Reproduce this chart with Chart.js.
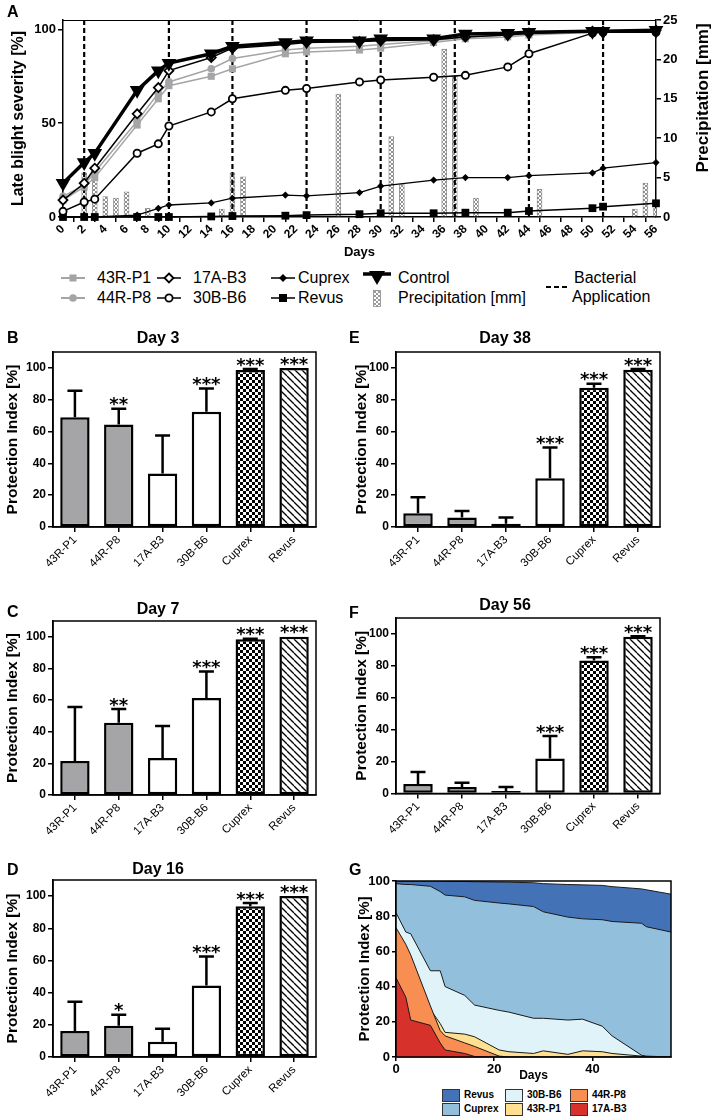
<!DOCTYPE html>
<html>
<head>
<meta charset="utf-8">
<script src="https://cdn.jsdelivr.net/npm/chart.js@4.4.1/dist/chart.umd.min.js"></script>
<style>
  body { margin: 0; background: #fff; }
  #page { position: relative; width: 714px; height: 1118px; overflow: hidden; font-family: "Liberation Sans", Arial, sans-serif; color: #000; }
  canvas { position: absolute; }
  .panel { position: absolute; font-weight: bold; font-size: 16px; line-height: 16px; }
  .lg { position: absolute; font-size: 16px; line-height: 18px; white-space: nowrap; }
  .ic { position: absolute; overflow: visible; }
  .gl { position: absolute; font-size: 10px; font-weight: bold; line-height: 12px; white-space: nowrap; }
  .gb { position: absolute; width: 16px; height: 11px; border: 1px solid #333; }
</style>
</head>
<body>
<div id="page">
  <canvas id="chartA" width="714" height="262" style="left:0;top:0"></canvas>
  <canvas id="chartB" width="336" height="255" style="left:0;top:320px"></canvas>
  <canvas id="chartE" width="326" height="255" style="left:350px;top:320px"></canvas>
  <canvas id="chartC" width="336" height="250" style="left:0;top:590px"></canvas>
  <canvas id="chartF" width="326" height="250" style="left:350px;top:590px"></canvas>
  <canvas id="chartD" width="336" height="268" style="left:0;top:850px"></canvas>
  <canvas id="chartG" width="360" height="213" style="left:354px;top:870px"></canvas>

  <div class="panel" style="left:7px;top:4px">A</div>
  <div class="panel" style="left:7px;top:330px">B</div>
  <div class="panel" style="left:7px;top:604px">C</div>
  <div class="panel" style="left:7px;top:862px">D</div>
  <div class="panel" style="left:349px;top:330px">E</div>
  <div class="panel" style="left:349px;top:605px">F</div>
  <div class="panel" style="left:349px;top:862px">G</div>

  <!-- legend of panel A -->
  <svg class="ic" style="left:61px;top:271px" width="24" height="14"><line x1="0" y1="7" x2="24" y2="7" stroke="#a4a4a4" stroke-width="2"/><rect x="8.5" y="3.5" width="7" height="7" fill="#a4a4a4"/></svg>
  <div class="lg" style="left:97px;top:269px">43R-P1</div>
  <svg class="ic" style="left:61px;top:291px" width="24" height="14"><line x1="0" y1="7" x2="24" y2="7" stroke="#a4a4a4" stroke-width="2"/><circle cx="12" cy="7" r="3.8" fill="#a4a4a4"/></svg>
  <div class="lg" style="left:97px;top:289px">44R-P8</div>
  <svg class="ic" style="left:157px;top:271px" width="24" height="14"><line x1="0" y1="7" x2="24" y2="7" stroke="#000" stroke-width="1.5"/><polygon points="12,2.5 16.5,7 12,11.5 7.5,7" fill="#fff" stroke="#000" stroke-width="1.8"/></svg>
  <div class="lg" style="left:193px;top:269px">17A-B3</div>
  <svg class="ic" style="left:157px;top:291px" width="24" height="14"><line x1="0" y1="7" x2="24" y2="7" stroke="#000" stroke-width="1.5"/><circle cx="12" cy="7" r="3.6" fill="#fff" stroke="#000" stroke-width="1.8"/></svg>
  <div class="lg" style="left:193px;top:289px">30B-B6</div>
  <svg class="ic" style="left:271px;top:271px" width="24" height="14"><line x1="0" y1="7" x2="24" y2="7" stroke="#000" stroke-width="1.5"/><polygon points="12,3 16,7 12,11 8,7" fill="#000"/></svg>
  <div class="lg" style="left:298px;top:269px">Cuprex</div>
  <svg class="ic" style="left:271px;top:291px" width="24" height="14"><line x1="0" y1="7" x2="24" y2="7" stroke="#000" stroke-width="1.5"/><rect x="8" y="3" width="8" height="8" fill="#000"/></svg>
  <div class="lg" style="left:298px;top:289px">Revus</div>
  <svg class="ic" style="left:363px;top:271px" width="28" height="14"><line x1="0" y1="3" x2="28" y2="3" stroke="#000" stroke-width="3.5"/><polygon points="6,0 22,0 14,14" fill="#000"/></svg>
  <div class="lg" style="left:398px;top:269px">Control</div>
  <svg class="ic" style="left:373px;top:290px" width="8" height="17"><defs><pattern id="rainPat" width="4" height="4" patternUnits="userSpaceOnUse"><rect width="4" height="4" fill="#fff"/><path d="M0,0L4,4M4,0L0,4" stroke="#9a9a9a" stroke-width="1"/></pattern></defs><rect x="0.5" y="0.5" width="7" height="16" fill="url(#rainPat)" stroke="#8c8c8c" stroke-width="0.8"/></svg>
  <div class="lg" style="left:398px;top:289px">Precipitation [mm]</div>
  <svg class="ic" style="left:546px;top:283px" width="24" height="8"><line x1="0" y1="4" x2="24" y2="4" stroke="#000" stroke-width="2.2" stroke-dasharray="5,3"/></svg>
  <div class="lg" style="left:574px;top:269px">Bacterial</div>
  <div class="lg" style="left:572px;top:288px">Application</div>

  <!-- legend of panel G -->
  <div class="gb" style="left:442px;top:1089px;background:#4472b7"></div>
  <div class="gl" style="left:464px;top:1089px">Revus</div>
  <div class="gb" style="left:505px;top:1089px;background:#e0f3f8"></div>
  <div class="gl" style="left:527px;top:1089px">30B-B6</div>
  <div class="gb" style="left:570px;top:1089px;background:#f98e52"></div>
  <div class="gl" style="left:592px;top:1089px">44R-P8</div>
  <div class="gb" style="left:442px;top:1103px;background:#92bfdc"></div>
  <div class="gl" style="left:464px;top:1103px">Cuprex</div>
  <div class="gb" style="left:505px;top:1103px;background:#fee090"></div>
  <div class="gl" style="left:527px;top:1103px">43R-P1</div>
  <div class="gb" style="left:570px;top:1103px;background:#d7312b"></div>
  <div class="gl" style="left:592px;top:1103px">17A-B3</div>
</div>

<script>
// A: late blight severity per assessment day
const days = [0, 2, 3, 7, 9, 10, 14, 16, 21, 23, 28, 30, 35, 38, 42, 44, 50, 51, 56];
const sev43RP1   = [9, 16, 21, 49, 63, 70, 75, 79, 87, 88, 89, 90, 93, 95, 96, 97, 98.5, 99, 99.5];
const sev44RP8   = [11, 17, 24, 51, 66, 72, 79, 84.5, 89, 90, 91, 92, 94, 96, 97, 97.5, 99, 99, 99.5];
const sev17AB3   = [9, 18, 26, 55, 69, 78, 85, 90, 92, 93, 93.5, 94, 94.5, 96, 97, 98, 99, 99, 99.5];
const sev30BB6   = [3, 8, 9.5, 34, 39, 48.5, 56, 63, 67.5, 68.5, 72, 73, 74.5, 75.5, 80, 87, 98, 98.5, 98.5];
const sevCuprex  = [0, 0, 0, 1, 4.6, 6.4, 7.5, 10, 11.7, 11.3, 13, 16.5, 19.7, 21, 21, 22, 23.5, 26, 29];
const sevRevus   = [0, 0, 0, 0, 0, 0, 0.3, 0.5, 0.7, 1, 1.5, 2, 2, 2.3, 2.3, 3.2, 4.7, 5.5, 7.3];
const sevControl = [18, 29, 34, 67.5, 78, 82, 87, 91, 93, 94, 94, 95, 95, 97.5, 98, 98.5, 99, 99, 99.5];

const precipDays = [2, 3, 4, 5, 6, 8, 15, 16, 17, 26, 31, 32, 36, 37, 39, 45, 54, 55, 56];
const precipMm   = [5.6, 5.8, 2.6, 2.4, 3.2, 1.1, 1.0, 5.6, 5.1, 15.6, 10.2, 4.1, 21.3, 17.9, 2.4, 3.5, 1.0, 4.3, 1.1];
const appDays = [2, 10, 16, 23, 30, 37, 44, 51];

// B-F: protection index per treatment
const strains = ['43R-P1', '44R-P8', '17A-B3', '30B-B6', 'Cuprex', 'Revus'];
const day3PI  = [69, 64.4, 33.7, 72.5, 98.7, 100];
const day3Err = [16.6, 10, 23.8, 14.5, 0.6, 0];
const day3Sig = ['', '**', '', '***', '***', '***'];
const day7PI  = [21.5, 45.6, 23.4, 61.4, 98.5, 100];
const day7Err = [34.2, 8.8, 20.2, 16.6, 0.3, 0];
const day7Sig = ['', '**', '', '***', '***', '***'];
const day16PI  = [16.2, 19.4, 9.4, 44.4, 93.7, 100];
const day16Err = [18.2, 6.8, 8.1, 18.1, 2.0, 0];
const day16Sig = ['', '*', '', '***', '***', '***'];
const day38PI  = [8.7, 6, 2, 30.6, 87.5, 98.8];
const day38Err = [10, 4, 4, 19.4, 2.5, 0.5];
const day38Sig = ['', '', '', '***', '***', '***'];
const day56PI  = [6, 4, 1.5, 22, 83.3, 98.2];
const day56Err = [7.5, 2.8, 2.5, 14, 2.1, 0.3];
const day56Sig = ['', '', '', '***', '***', '***'];

// G: protection index over time
const piRevus  = [100, 100, 100, 100, 100, 99.8, 99.7, 99.6, 99.4, 99.3, 99, 98.5, 98, 97.8, 97.5, 96.8, 95.5, 95, 92.5];
const piCuprex = [98.5, 98, 98, 97, 94, 92, 91, 89, 87.5, 87, 85.5, 82.5, 79.5, 78.5, 78, 77, 76, 74, 71];
const pi30BB6  = [82, 71, 70, 49, 49, 40, 35, 29.5, 26.5, 25.5, 22, 22, 21, 21.5, 17.5, 12, 1, 0.5, 0];
const pi43RP1  = [70, 62, 55, 27, 19, 14, 13, 11.5, 4, 3, 2, 3.5, 1.5, 3.5, 3, 2, 0.5, 0, 0];
const pi44RP8  = [73.5, 64, 58, 29, 15, 12, 8, 6, 0.5, 0, 0, 0, 0, 0, 0, 0, 0, 0, 0];
const pi17AB3  = [45, 34, 21, 18, 8, 4, 2, 0.3, 0, 0, 0, 0, 0, 0, 0, 0, 0, 0, 0];

Chart.defaults.font.family = '"Liberation Sans", Arial, sans-serif';
Chart.defaults.color = '#000';

function pattern(w, h, paint) {
  const c = document.createElement('canvas');
  c.width = w; c.height = h;
  const g = c.getContext('2d');
  g.fillStyle = '#fff';
  g.fillRect(0, 0, w, h);
  paint(g);
  return g.createPattern(c, 'repeat');
}
const checker = pattern(6, 6, g => { g.fillStyle = '#000'; g.fillRect(0, 0, 3, 3); g.fillRect(3, 3, 3, 3); });
const hatch = pattern(7, 7, g => {
  g.strokeStyle = '#000'; g.lineWidth = 1.3;
  [-7, 0, 7].forEach(c => { g.beginPath(); g.moveTo(0, c); g.lineTo(7, 7 + c); g.stroke(); });
});
const rainFill = pattern(4, 4, g => {
  g.strokeStyle = '#8f8f8f'; g.lineWidth = 1;
  g.beginPath(); g.moveTo(0, 0); g.lineTo(4, 4); g.moveTo(4, 0); g.lineTo(0, 4); g.stroke();
});
const grey = '#a5a5a8';
const barFills = [grey, grey, '#fff', '#fff', checker, hatch];

const axisGrid = { drawOnChartArea: false, drawTicks: true, tickLength: 5, color: '#000', lineWidth: 1.5 };
const axisBorder = { display: true, color: '#000', width: 1.5 };
const pts = vals => days.map((d, i) => ({ x: d, y: vals[i] }));

// ---- A ----
const panelA = {
  id: 'panelA',
  afterDatasetDraw(chart, args) {
    if (args.meta.type !== 'bar') return;
    const { ctx, chartArea: a, scales: { x } } = chart;
    ctx.save();
    ctx.strokeStyle = '#000';
    ctx.lineWidth = 2.2;
    ctx.setLineDash([5, 3]);
    appDays.forEach(d => {
      const px = x.getPixelForValue(d);
      ctx.beginPath(); ctx.moveTo(px, a.bottom); ctx.lineTo(px, a.top); ctx.stroke();
    });
    ctx.restore();
  },
  afterDraw(chart) {
    const { ctx, chartArea: a } = chart;
    ctx.save();
    ctx.strokeStyle = '#000';
    ctx.lineWidth = 1;
    ctx.beginPath(); ctx.moveTo(a.left, a.top + 0.5); ctx.lineTo(a.right, a.top + 0.5); ctx.stroke();
    ctx.translate(a.right + 47, 98);
    ctx.rotate(-Math.PI / 2);
    ctx.font = 'bold 17px "Liberation Sans", Arial, sans-serif';
    ctx.fillStyle = '#000';
    ctx.textAlign = 'center';
    ctx.textBaseline = 'middle';
    ctx.fillText('Precipitation [mm]', 0, 0);
    ctx.restore();
  }
};

const line = (label, vals, o) => Object.assign({
  type: 'line', label, data: pts(vals), yAxisID: 'y', tension: 0, clip: false,
  borderColor: '#000', borderWidth: 1.5, pointBorderColor: '#000', pointBorderWidth: 1.8
}, o);

new Chart(document.getElementById('chartA'), {
  type: 'line',
  data: {
    datasets: [
      { type: 'bar', label: 'Precipitation [mm]', yAxisID: 'y2', order: 20,
        data: precipDays.map((d, i) => ({ x: d, y: precipMm[i] })),
        backgroundColor: rainFill, borderColor: '#8c8c8c', borderWidth: 0.8, barThickness: 5 },
      line('43R-P1', sev43RP1, { order: 9, borderColor: grey, pointStyle: 'rect', pointRadius: 5,
        pointBackgroundColor: grey, pointBorderColor: grey, pointBorderWidth: 0 }),
      line('44R-P8', sev44RP8, { order: 8, borderColor: grey, pointStyle: 'circle', pointRadius: 3.8,
        pointBackgroundColor: grey, pointBorderColor: grey, pointBorderWidth: 0 }),
      line('Revus', sevRevus, { order: 7, pointStyle: 'rect', pointRadius: 5.5, pointBackgroundColor: '#000', pointBorderWidth: 0 }),
      line('Cuprex', sevCuprex, { order: 6, borderWidth: 1.3, pointStyle: 'rectRot', pointRadius: 3.6, pointBackgroundColor: '#000', pointBorderWidth: 0 }),
      line('30B-B6', sev30BB6, { order: 5, pointStyle: 'circle', pointRadius: 3.6, pointBackgroundColor: '#fff' }),
      line('17A-B3', sev17AB3, { order: 4, pointStyle: 'rectRot', pointRadius: 4.5, pointBackgroundColor: '#fff' }),
      line('Control', sevControl, { order: 1, borderWidth: 3.5, pointStyle: 'triangle', rotation: 180,
        pointRadius: 8.5, pointBackgroundColor: '#000', pointBorderWidth: 0 })
    ]
  },
  options: {
    responsive: false, animation: false,
    layout: { padding: { top: 20 } },
    plugins: { legend: { display: false }, tooltip: { enabled: false } },
    scales: {
      x: { type: 'linear', min: 0, max: 56, offset: false, grid: axisGrid, border: axisBorder,
        ticks: { stepSize: 2, autoSkip: false, minRotation: 45, maxRotation: 45, padding: 0, color: '#000', font: { size: 12, weight: 'bold' } },
        title: { display: true, text: 'Days', color: '#000', font: { size: 13, weight: 'bold' }, padding: { top: 0, bottom: 2 } },
        afterFit: s => { s.height = 45; } },
      y: { min: 0, max: 105, grid: axisGrid, border: axisBorder,
        ticks: { stepSize: 50, includeBounds: false, color: '#000', font: { size: 13, weight: 'bold' }, padding: 2 },
        title: { display: true, text: 'Late blight severity [%]', color: '#000', font: { size: 16, weight: 'bold' }, padding: { top: 9, bottom: 0 } },
        afterFit: s => { s.width = 63; } },
      y2: { position: 'right', min: 0, max: 25, grid: axisGrid, border: axisBorder,
        ticks: { stepSize: 5, color: '#000', font: { size: 13, weight: 'bold' }, padding: 2 },
        afterFit: s => { s.width = 58; } }
    }
  },
  plugins: [panelA]
});

// ---- B-F ----
function barMarks(errs, stars) {
  return {
    id: 'barMarks',
    afterDatasetsDraw(chart) {
      const { ctx, chartArea: a, scales: { y } } = chart;
      const vals = chart.data.datasets[0].data;
      ctx.save();
      ctx.strokeStyle = '#000';
      ctx.fillStyle = '#000';
      ctx.lineWidth = 2.5;
      ctx.font = 'bold 18px "DejaVu Sans", sans-serif';
      ctx.textAlign = 'center';
      ctx.textBaseline = 'alphabetic';
      chart.getDatasetMeta(0).data.forEach((bar, i) => {
        const yTop = y.getPixelForValue(vals[i] + errs[i]);
        if (errs[i] > 0) {
          ctx.beginPath();
          ctx.moveTo(bar.x, bar.y); ctx.lineTo(bar.x, yTop);
          ctx.moveTo(bar.x - 7.5, yTop); ctx.lineTo(bar.x + 7.5, yTop);
          ctx.stroke();
        }
        if (stars[i]) ctx.fillText(stars[i], bar.x, yTop - 9 + 10.6);
      });
      ctx.lineWidth = 1.5;
      ctx.strokeRect(a.left, a.top, a.width, a.height);
      ctx.restore();
    }
  };
}

function protectionChart(id, title, vals, errs, stars, g) {
  new Chart(document.getElementById(id), {
    type: 'bar',
    data: { labels: strains, datasets: [{ data: vals, backgroundColor: barFills, borderColor: '#000',
      borderWidth: 2.5, borderSkipped: false, barPercentage: 0.67, categoryPercentage: 1 }] },
    options: {
      responsive: false, animation: false,
      layout: { padding: { right: g.right } },
      plugins: {
        legend: { display: false }, tooltip: { enabled: false },
        title: { display: true, text: title, color: '#000', font: { size: 16, weight: 'bold' }, padding: { top: g.tt, bottom: g.tb } }
      },
      scales: {
        x: { offset: true, grid: Object.assign({}, axisGrid, { offset: false }), border: axisBorder,
          ticks: { autoSkip: false, minRotation: 45, maxRotation: 45, padding: 1, color: '#000', font: { size: 11.5 } },
          afterFit: s => { s.height = g.xh; } },
        y: { min: 0, max: 110, grid: axisGrid, border: axisBorder,
          ticks: { stepSize: 20, includeBounds: false, color: '#000', font: { size: 12, weight: 'bold' }, padding: 2 },
          title: { display: true, text: 'Protection Index [%]', color: '#000', font: { size: 15.5, weight: 'bold' }, padding: { top: g.yt, bottom: 0 } },
          afterFit: s => { s.width = g.yw; } }
      }
    },
    plugins: [barMarks(errs, stars)]
  });
}

protectionChart('chartB', 'Day 3', day3PI, day3Err, day3Sig, { right: 20, tt: 9.4, tb: 3.4, xh: 48, yw: 53, yt: 3.5 });
protectionChart('chartC', 'Day 7', day7PI, day7Err, day7Sig, { right: 20, tt: 10.4, tb: 1.4, xh: 45, yw: 53, yt: 3.5 });
protectionChart('chartD', 'Day 16', day16PI, day16Err, day16Sig, { right: 20, tt: 10.4, tb: 0.4, xh: 61, yw: 53, yt: 3.5 });
protectionChart('chartE', 'Day 38', day38PI, day38Err, day38Sig, { right: 16, tt: 9.4, tb: 3.4, xh: 48, yw: 46, yt: 2 });
protectionChart('chartF', 'Day 56', day56PI, day56Err, day56Sig, { right: 16, tt: 6.4, tb: 2.4, xh: 46.5, yw: 46, yt: 2 });

// ---- G ----
const frameG = {
  id: 'frameG',
  afterDatasetsDraw(chart) {
    const { ctx, chartArea: a } = chart;
    ctx.save();
    ctx.strokeStyle = '#000';
    ctx.lineWidth = 1.5;
    ctx.strokeRect(a.left, a.top, a.width, a.height);
    ctx.restore();
  }
};
const area = (label, vals, color, order) => ({
  label, data: pts(vals), fill: 'origin', backgroundColor: color, borderColor: '#1a1a1a',
  borderWidth: 1, pointRadius: 0, tension: 0, order
});
const gridG = Object.assign({}, axisGrid, { tickLength: 4 });

new Chart(document.getElementById('chartG'), {
  type: 'line',
  data: {
    datasets: [
      area('Revus', piRevus, '#4472b7', 6),
      area('Cuprex', piCuprex, '#92bfdc', 5),
      area('30B-B6', pi30BB6, '#e0f3f8', 4),
      area('43R-P1', pi43RP1, '#fee090', 3),
      area('44R-P8', pi44RP8, '#f98e52', 2),
      area('17A-B3', pi17AB3, '#d7312b', 1)
    ]
  },
  options: {
    responsive: false, animation: false,
    layout: { padding: { top: 11, right: 43 } },
    plugins: { legend: { display: false }, tooltip: { enabled: false } },
    scales: {
      x: { type: 'linear', min: 0, max: 56, grid: gridG, border: axisBorder,
        ticks: { stepSize: 20, includeBounds: false, color: '#000', font: { size: 13, weight: 'bold' }, padding: 1 },
        title: { display: true, text: 'Days', color: '#000', font: { size: 12, weight: 'bold' }, padding: { top: 0, bottom: 0 } },
        afterFit: s => { s.height = 26; } },
      y: { min: 0, max: 100, grid: gridG, border: axisBorder,
        ticks: { stepSize: 20, color: '#000', font: { size: 13, weight: 'bold' }, padding: 2 },
        title: { display: true, text: 'Protection Index [%]', color: '#000', font: { size: 15, weight: 'bold' }, padding: { top: 2, bottom: 0 } },
        afterFit: s => { s.width = 42; } }
    }
  },
  plugins: [frameG]
});
</script>
</body>
</html>
